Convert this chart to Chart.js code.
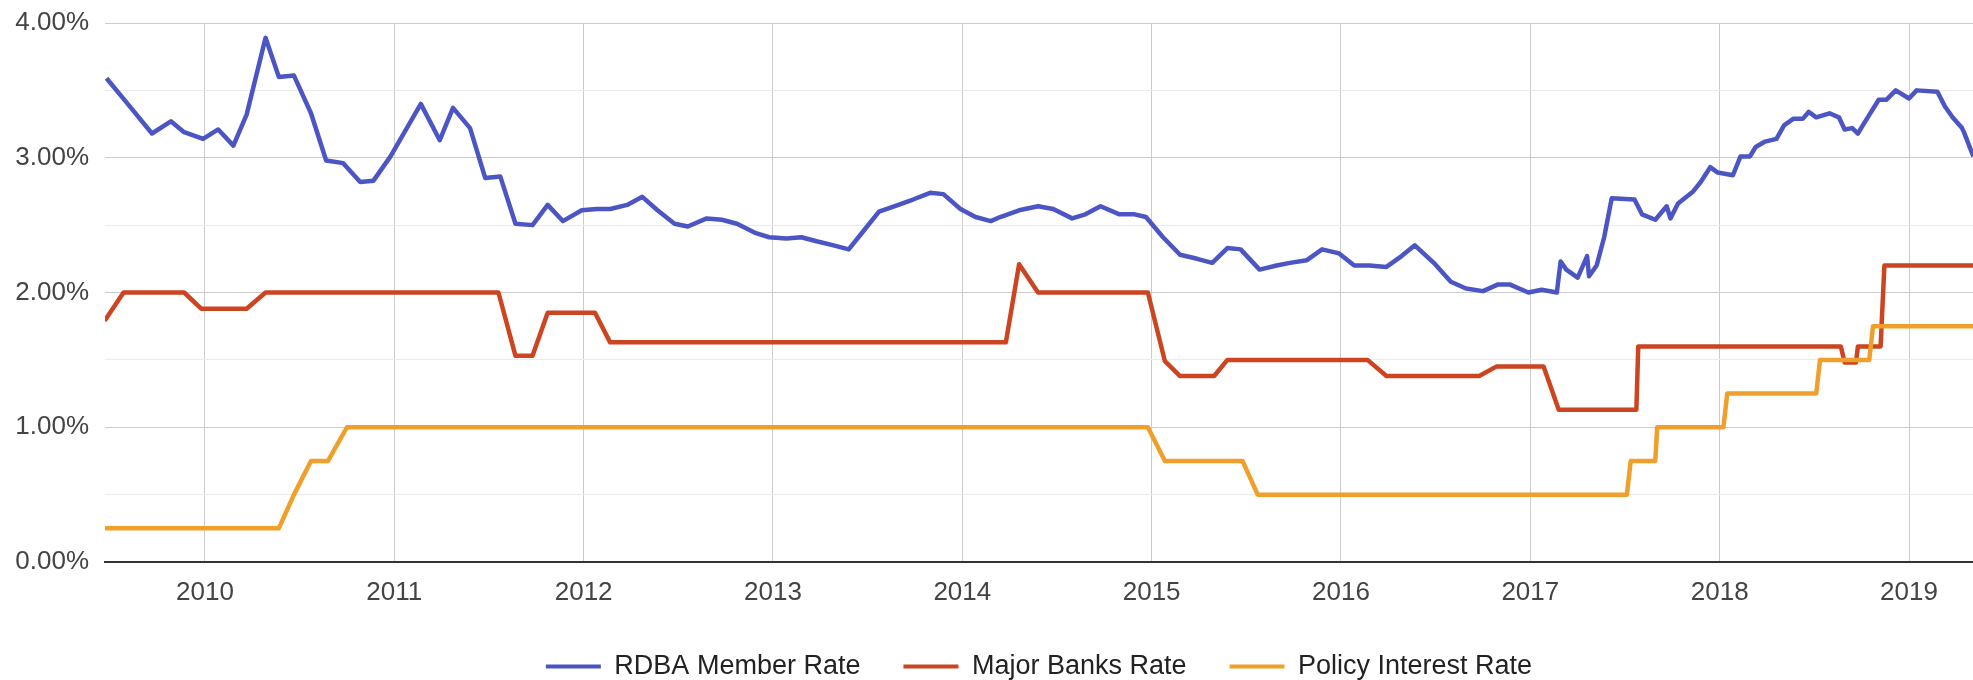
<!DOCTYPE html>
<html>
<head>
<meta charset="utf-8">
<title>RDBA Member Rate vs Major Banks Rate vs Policy Interest Rate</title>
<script src="https://cdn.jsdelivr.net/npm/chart.js@4/dist/chart.umd.min.js"></script>
<style>
  html, body { margin: 0; padding: 0; background: #fff; }
  #chart { display: block; }
</style>
</head>
<body>
<canvas id="chart" width="1973" height="680"></canvas>
<script>
// Valores (datas em anos decimais, taxas em %)
const yearTicks = [2010, 2011, 2012, 2013, 2014, 2015, 2016, 2017, 2018, 2019];

const rdbaDates = [
  2009.48, 2009.58, 2009.72, 2009.82, 2009.89, 2009.99, 2010.07, 2010.15, 2010.22, 2010.32,
  2010.39, 2010.47, 2010.56, 2010.64, 2010.73, 2010.82, 2010.89, 2010.98, 2011.14, 2011.24,
  2011.31, 2011.40, 2011.48, 2011.56, 2011.64, 2011.73, 2011.81, 2011.89, 2011.99, 2012.07,
  2012.14, 2012.23, 2012.31, 2012.39, 2012.48, 2012.55, 2012.65, 2012.73, 2012.81, 2012.91,
  2012.98, 2013.07, 2013.15, 2013.23, 2013.32, 2013.40, 2013.48, 2013.56, 2013.64, 2013.74,
  2013.83, 2013.90, 2013.99, 2014.07, 2014.15, 2014.20, 2014.30, 2014.40, 2014.48, 2014.58,
  2014.65, 2014.73, 2014.83, 2014.91, 2014.97, 2015.06, 2015.15, 2015.24, 2015.32, 2015.40,
  2015.47, 2015.57, 2015.66, 2015.73, 2015.82, 2015.90, 2015.99, 2016.07, 2016.15, 2016.24,
  2016.32, 2016.39, 2016.49, 2016.58, 2016.66, 2016.75, 2016.83, 2016.89, 2016.99, 2017.06,
  2017.14, 2017.16, 2017.19, 2017.25, 2017.30, 2017.31, 2017.35, 2017.39, 2017.43, 2017.55,
  2017.59, 2017.66, 2017.72, 2017.74, 2017.78, 2017.86, 2017.90, 2017.95, 2017.99, 2018.07,
  2018.11, 2018.16, 2018.19, 2018.24, 2018.30, 2018.34, 2018.39, 2018.44, 2018.47, 2018.51,
  2018.58, 2018.63, 2018.66, 2018.70, 2018.73, 2018.76, 2018.84, 2018.88, 2018.93, 2019.00,
  2019.04, 2019.15, 2019.19, 2019.23, 2019.28, 2019.29, 2019.34, 2019.36
];
const rdbaRates = [
  3.59, 3.42, 3.18, 3.27, 3.19, 3.14, 3.21, 3.09, 3.32, 3.89,
  3.60, 3.61, 3.33, 2.98, 2.96, 2.82, 2.83, 3.01, 3.40, 3.13,
  3.37, 3.22, 2.85, 2.86, 2.51, 2.50, 2.65, 2.53, 2.61, 2.62,
  2.62, 2.65, 2.71, 2.61, 2.51, 2.49, 2.55, 2.54, 2.51, 2.44,
  2.41, 2.40, 2.41, 2.38, 2.35, 2.32, 2.46, 2.60, 2.64, 2.69,
  2.74, 2.73, 2.62, 2.56, 2.53, 2.56, 2.61, 2.64, 2.62, 2.55,
  2.58, 2.64, 2.58, 2.58, 2.56, 2.41, 2.28, 2.25, 2.22, 2.33,
  2.32, 2.17, 2.20, 2.22, 2.24, 2.32, 2.29, 2.20, 2.20, 2.19,
  2.27, 2.35, 2.22, 2.08, 2.03, 2.01, 2.06, 2.06, 2.00, 2.02,
  2.00, 2.23, 2.17, 2.11, 2.27, 2.12, 2.20, 2.41, 2.70, 2.69,
  2.58, 2.54, 2.64, 2.55, 2.66, 2.75, 2.82, 2.93, 2.89, 2.87,
  3.01, 3.01, 3.08, 3.12, 3.14, 3.24, 3.29, 3.29, 3.34, 3.30,
  3.33, 3.30, 3.21, 3.22, 3.18, 3.25, 3.43, 3.43, 3.50, 3.44,
  3.50, 3.49, 3.38, 3.30, 3.22, 3.19, 3.01, 2.95
];

const majorDates = [
  2009.47, 2009.57, 2009.89, 2009.98, 2010.22, 2010.32, 2011.55, 2011.64, 2011.73, 2011.81,
  2012.06, 2012.14, 2014.23, 2014.30, 2014.40, 2014.98, 2015.07, 2015.15, 2015.33, 2015.40,
  2016.14, 2016.24, 2016.73, 2016.82, 2017.07, 2017.15, 2017.56, 2017.57, 2018.64, 2018.66,
  2018.72, 2018.73, 2018.85, 2018.87, 2019.36
];
const majorRates = [
  1.79, 2.00, 2.00, 1.88, 1.88, 2.00, 2.00, 1.53, 1.53, 1.85,
  1.85, 1.63, 1.63, 2.21, 2.00, 2.00, 1.49, 1.38, 1.38, 1.50,
  1.50, 1.38, 1.38, 1.45, 1.45, 1.13, 1.13, 1.60, 1.60, 1.48,
  1.48, 1.60, 1.60, 2.20, 2.20
];

const policyDates = [
  2009.47, 2010.39, 2010.47, 2010.56, 2010.65, 2010.75, 2014.98, 2015.07, 2015.48, 2015.56,
  2017.51, 2017.53, 2017.66, 2017.67, 2018.02, 2018.04, 2018.51, 2018.53, 2018.79, 2018.81,
  2019.36
];
const policyRates = [
  0.25, 0.25, 0.50, 0.75, 0.75, 1.00, 1.00, 0.75, 0.75, 0.50,
  0.50, 0.75, 0.75, 1.00, 1.00, 1.25, 1.25, 1.50, 1.50, 1.75,
  1.75
];

const seriesNames = ['RDBA Member Rate', 'Major Banks Rate', 'Policy Interest Rate'];
const seriesColors = ['#4b55c3', '#cc4420', '#f0a02a'];

function toPoints(dates, rates) {
  return dates.map((d, i) => ({ x: d, y: rates[i] }));
}

const fontFamily = '"Liberation Sans", Arial, sans-serif';
Chart.defaults.font.family = fontFamily;

const datasets = [
  toPoints(rdbaDates, rdbaRates),
  toPoints(majorDates, majorRates),
  toPoints(policyDates, policyRates)
].map((data, i) => ({
  label: seriesNames[i],
  data: data,
  borderColor: seriesColors[i],
  backgroundColor: seriesColors[i],
  borderWidth: 4.5,
  borderJoinStyle: 'round',
  pointRadius: 0,
  pointHoverRadius: 0,
  tension: 0,
  order: 3 - i // série seguinte desenhada por cima
}));

new Chart(document.getElementById('chart'), {
  type: 'line',
  data: { datasets },
  options: {
    responsive: false,
    animation: false,
    devicePixelRatio: 1,
    layout: { autoPadding: false, padding: { top: 23, left: 15, right: 0, bottom: -10 } },
    plugins: {
      tooltip: { enabled: false },
      legend: {
        position: 'bottom',
        fullSize: false,
        labels: {
          color: '#222',
          font: { size: 27 },
          boxWidth: 55,
          boxHeight: 4,
          padding: 43,
          sort: (a, b) => a.datasetIndex - b.datasetIndex,
          generateLabels: chart =>
            Chart.defaults.plugins.legend.labels.generateLabels(chart).map(l => ({ ...l, lineWidth: 0 }))
        }
      }
    },
    scales: {
      x: {
        type: 'linear',
        min: 2009.472,
        max: 2019.338,
        afterBuildTicks: scale => {
          scale.ticks = yearTicks.map(v => ({ value: v }));
        },
        afterFit: scale => {
          scale.paddingLeft = 0;
          scale.paddingRight = 0;
          scale.height = 48;
        },
        grid: { color: '#cccccc', lineWidth: 1, drawTicks: false },
        border: { display: true, color: '#333', width: 2 },
        ticks: {
          color: '#444',
          font: { size: 26 },
          padding: 15,
          maxRotation: 0,
          autoSkip: false,
          callback: v => String(v)
        }
      },
      y: {
        min: 0,
        max: 4,
        afterFit: scale => {
          scale.paddingTop = 0;
          scale.paddingBottom = 0;
          scale.width = 90;
        },
        grid: {
          drawTicks: false,
          color: ctx => (ctx.tick && ctx.tick.value % 1 === 0 ? '#cccccc' : '#ebebeb')
        },
        border: { display: false },
        ticks: {
          stepSize: 0.5,
          color: '#444',
          font: { size: 26 },
          padding: 16,
          autoSkip: false,
          callback: v => (v % 1 === 0 ? v.toFixed(2) + '%' : '')
        }
      }
    }
  }
});
</script>
</body>
</html>
